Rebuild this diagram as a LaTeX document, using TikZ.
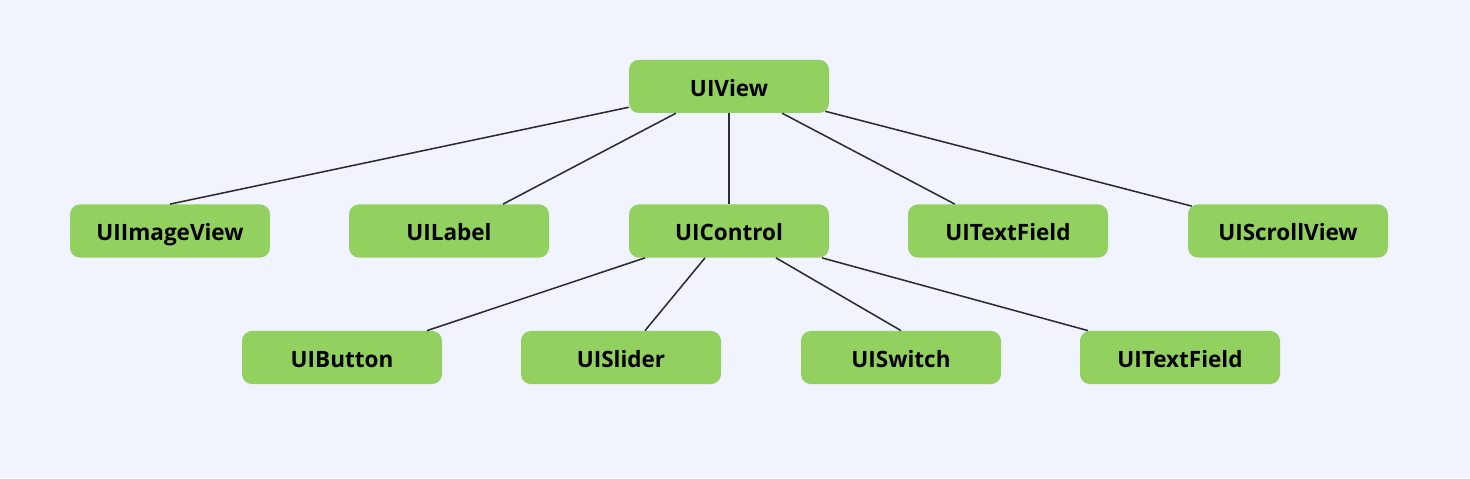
\documentclass[tikz,border=0pt]{standalone}
\usepackage{fontspec}
\setsansfont{Open Sans}
\RequirePackage{xcolor}
\definecolor{uibg}{RGB}{241,244,252}
\definecolor{uigreen}{RGB}{146,208,96}
\definecolor{uiline}{RGB}{45,45,45}
\tikzset{every picture/.style={/utils/exec={\sffamily}}}
\tikzset{cls/.style={fill=uigreen, rounded corners=0.25cm, minimum width=5cm, minimum height=1.33cm, text height=0.55cm, text depth=0.05cm, font=\fontsize{16}{19}\selectfont\bfseries, text=black}}
\tikzset{edge/.style={draw=uiline, line width=1.1pt}}
\usetikzlibrary{positioning}

\begin{document}
\begin{tikzpicture}
  \fill [uibg] (0,0) rectangle (36.75,11.95);
  \useasboundingbox (0,0) rectangle (36.75,11.95);

  \node [cls] (view) at (18.225,9.79) {UIView};

  \node [cls] (imageview) at (4.25,6.175) {UIImageView};
  \node [cls] (label) at (11.225,6.175) {UILabel};
  \node [cls] (control) at (18.225,6.175) {UIControl};
  \node [cls] (textfield) at (25.2,6.175) {UITextField};
  \node [cls] (scrollview) at (32.2,6.175) {UIScrollView};

  \node [cls] (button) at (8.55,3.0125) {UIButton};
  \node [cls] (slider) at (15.525,3.0125) {UISlider};
  \node [cls] (switch) at (22.525,3.0125) {UISwitch};
  \node [cls] (textfieldb) at (29.5,3.0125) {UITextField};

  \draw [edge] ([yshift=0.15cm]view.south west) -- (imageview.north);
  \draw [edge] ([xshift=-1.33cm]view.south) -- ([xshift=1.35cm]label.north);
  \draw [edge] (view.south) -- (control.north);
  \draw [edge] ([xshift=1.33cm]view.south) -- ([xshift=-1.33cm]textfield.north);
  \draw [edge] ([xshift=-0.1cm,yshift=0.05cm]view.south east) -- ([xshift=0.1cm,yshift=-0.05cm]scrollview.north west);

  \draw [edge] ([xshift=-2.1cm]control.south) -- ([xshift=2.125cm]button.north);
  \draw [edge] ([xshift=-0.6cm]control.south) -- ([xshift=0.6cm]slider.north);
  \draw [edge] ([xshift=1.175cm]control.south) -- (switch.north);
  \draw [edge] ([xshift=2.325cm]control.south) -- ([xshift=-2.3cm]textfieldb.north);
\end{tikzpicture}
\end{document}
